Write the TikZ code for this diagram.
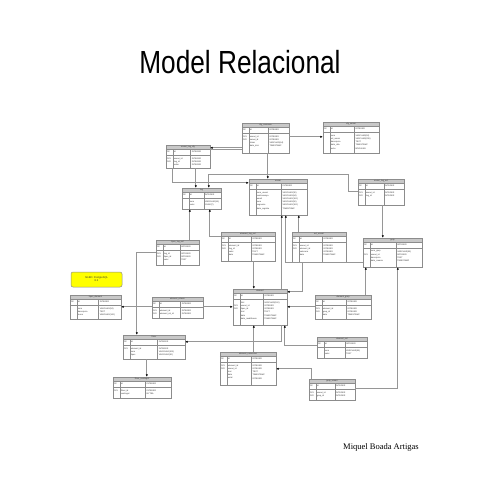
\documentclass[tikz,border=0pt]{standalone}
\usepackage{fontspec}
\setmainfont{Liberation Serif}
\newfontfamily\titlefont[FakeStretch=0.82]{Liberation Sans}
\newfontfamily\taulafont{Liberation Sans}
\usetikzlibrary{arrows.meta,fit}

\definecolor{grisvora}{RGB}{140,140,140}
\definecolor{griscap}{RGB}{200,200,200}
\definecolor{grislinia}{RGB}{150,150,150}
\definecolor{grocnota}{RGB}{255,255,0}

\tikzset{
  taula/.style={inner sep=0pt, fill=white},
  vora/.style={draw=grisvora, line width=0.5pt},
  capcal/.style={fill=griscap},
  lletra/.style={font=\taulafont\fontsize{2.1}{2.4}\selectfont, inner sep=0pt, text=black!80},
  nota/.style={draw=grisvora, fill=grocnota, rounded corners=2pt, inner sep=0pt, line width=0.5pt},
  enllac/.style={draw=grislinia, line width=0.8pt},
  punta/.style={-{Latex[length=2.4pt,width=2.2pt,color=black]}},
  puntai/.style={{Latex[length=2.4pt,width=2.2pt,color=black]}-},
}

% #1 nom, (#2,#3)-(#4,#5) caixa, #6 titol, #7 camps
\newcommand{\dbtaula}[7]{%
  \node[taula, fit={(#2,#3) (#4,#5)}] (#1) {};
  \fill[capcal] (#1.north west) rectangle ([yshift=-4.5pt]#1.north east);
  \path (#1.north west) -- (#1.north east) coordinate[pos=0.56] (#1-c2);
  \draw[vora] ([yshift=-4.5pt]#1.north west) -- ([yshift=-4.5pt]#1.north east);
  \draw[vora] ([yshift=-10pt]#1.north west) -- ([yshift=-10pt]#1.north east);
  \draw[vora] ([xshift=7pt,yshift=-4.5pt]#1.north west) -- ([xshift=7pt]#1.south west);
  \draw[vora] ([yshift=-4.5pt]#1-c2) -- (#1-c2 |- #1.south);
  \draw[vora] (#1.north west) rectangle (#1.south east);
  \node[lletra] at ([yshift=-2.3pt]#1.north) {#6};
  \node[lletra, anchor=west] at ([xshift=1pt,yshift=-7.3pt]#1.north west) {PK};
  \node[lletra, anchor=west] at ([xshift=8pt,yshift=-7.3pt]#1.north west) {id};
  \node[lletra, anchor=west] at ([xshift=1pt,yshift=-7.3pt]#1-c2) {INTEGER};
  \foreach \k/\c/\t [count=\i] in {#7} {
    \node[lletra, anchor=west] at ([xshift=1pt,yshift={-10.5pt-\i*3.2pt}]#1.north west) {\k};
    \node[lletra, anchor=west] at ([xshift=8pt,yshift={-10.5pt-\i*3.2pt}]#1.north west) {\c};
    \node[lletra, anchor=west] at ([xshift=1pt,yshift={-10.5pt-\i*3.2pt}]#1-c2) {\t};
  }
}

\begin{document}
\begin{tikzpicture}[x=1pt, y=-1pt]
\useasboundingbox[fill=white] (0,0) rectangle (480,480);

\node[font=\titlefont\fontsize{32}{36}\selectfont, anchor=base, inner sep=0pt] (titol) at (240,73) {Model Relacional};
\node[font=\fontsize{8.5}{10}\selectfont, anchor=base west, inner sep=0pt] (autor) at (343,449) {Miquel Boada Artigas};

\dbtaula{conn}{242}{123}{289}{153}{cfg\_connexio}{FK1/usuari\_id/INTEGER, FK2/servei\_id/INTEGER, /token/VARCHAR(64), /data\_inici/TIMESTAMP}
\dbtaula{servei}{323}{122}{379}{153}{cfg\_servei}{/nom/VARCHAR(50), /url\_servei/VARCHAR(255), /descripcio/TEXT, /data\_alta/TIMESTAMP, /actiu/BOOLEAN}
\dbtaula{usrtag}{166}{145}{210}{168}{usuari\_tag\_cfg}{FK1/usuari\_id/INTEGER, FK2/tag\_id/INTEGER, /ordre/INTEGER}
\dbtaula{tag}{182}{188}{221}{209}{tag}{/nom/VARCHAR(50), /color/CHAR(7)}
\dbtaula{usuari}{249}{179}{307}{215}{usuari}{/nom\_usuari/VARCHAR(30), /contrasenya/VARCHAR(64), /email/VARCHAR(100), /nom/VARCHAR(50), /cognoms/VARCHAR(100), /data\_registre/TIMESTAMP}
\dbtaula{usrtagext}{358}{179}{404}{205}{usuari\_tag\_ext}{FK1/usuari\_id/INTEGER, FK2/tag\_id/INTEGER}
\dbtaula{tipustag}{156}{240}{199}{265}{tipus\_tag\_ext}{FK1/tag\_id/INTEGER, FK2/tipus\_id/INTEGER, /valor/TEXT}
\dbtaula{elemtag}{221}{232}{275}{261}{element\_tag\_ext}{FK1/element\_id/INTEGER, FK2/tag\_id/INTEGER, /valor/TEXT, /data/TIMESTAMP}
\dbtaula{extusr}{292}{232}{346}{262}{ext\_usuari}{FK1/usuari\_id/INTEGER, FK2/element\_id/INTEGER, /valoracio/INTEGER, /data/TIMESTAMP}
\dbtaula{grup}{363}{238}{422}{267}{grup}{/nom\_grup/VARCHAR(50), FK1/usuari\_id/INTEGER, /descripcio/TEXT, /data\_creacio/TIMESTAMP}
\dbtaula{tipuselem}{70}{295}{121}{319}{tipus\_element}{/nom/VARCHAR(50), /descripcio/TEXT, /icona/VARCHAR(100)}
\dbtaula{relacio}{152}{297}{203}{318}{element\_relacio}{FK1/element\_id/INTEGER, FK2/element\_rel\_id/INTEGER}
\dbtaula{element}{233}{289}{287}{325}{element}{/titol/VARCHAR(100), FK1/usuari\_id/INTEGER, FK2/tipus\_id/INTEGER, /text/TEXT, /data/TIMESTAMP, /data\_modificacio/TIMESTAMP}
\dbtaula{elemgrup}{315}{295}{371}{319}{element\_grup}{FK1/element\_id/INTEGER, FK2/grup\_id/INTEGER, /data/TIMESTAMP}
\dbtaula{elemext}{317}{337}{367}{358}{element\_ext}{/nom/VARCHAR(50), /valor/TEXT}
\dbtaula{comentari}{220}{352}{276}{385}{element\_comentari}{FK1/element\_id/INTEGER, FK2/usuari\_id/INTEGER, /text/TEXT, /data/TIMESTAMP, /estat/INTEGER}
\dbtaula{grupusr}{309}{379}{355}{400}{grup\_usuari}{FK1/usuari\_id/INTEGER, FK2/grup\_id/INTEGER}
\dbtaula{fitxer}{123}{335}{185}{359}{fitxer}{FK1/element\_id/INTEGER, /nom/VARCHAR(100), /tipus/VARCHAR(30)}
\dbtaula{contingut}{113}{377}{171}{398}{fitxer\_contingut}{FK1/fitxer\_id/INTEGER, /contingut/BYTEA}

\node[nota, fit={(71,272) (122,287)}] (nota) {};
\node[lletra, font=\taulafont\fontsize{2.6}{3.2}\selectfont, align=center] (notatext) at (nota.center) {SGBD: PostgreSQL\\8.3};

\draw[enllac, punta] ([yshift=-3pt]conn.west |- usrtag.north) -- ([yshift=-3pt]usrtag.north east);
\draw[enllac] ([yshift=-5pt]conn.west |- usrtag.north) -- ([yshift=-5pt]usrtag.north east);
\draw[enllac, punta] ([yshift=-15pt]conn.east |- servei.north) -- ([yshift=-15pt]servei.north west);
\draw[enllac, punta] ([xshift=26pt]conn.south west) -- ([xshift=26pt]conn.south west |- usuari.north);
\draw[enllac, punta] ([xshift=7pt]usrtag.south west) |- ([yshift=-4pt]usuari.north west);
\draw[enllac, punta] ([xshift=30pt]usrtag.south west) -- ([xshift=30pt]usrtag.south west |- tag.north);
\draw[enllac, puntai] ([xshift=27pt]tag.north west) |- ([xshift=-9pt,yshift=4pt]usrtagext.north west) |- ([yshift=-13pt]usrtagext.north west);
\draw[enllac, puntai] ([xshift=8pt]tag.south west) -- ([xshift=8pt]tag.south west |- tipustag.north);
\draw[enllac, puntai] ([xshift=28pt]tag.south west) |- ([yshift=-5pt]elemtag.north west);
\draw[enllac, puntai] ([xshift=33pt]usuari.south west) -- ([xshift=33pt]usuari.south west |- element.north);
\draw[enllac, puntai] ([xshift=37pt]usuari.south west) |- ([yshift=-25pt]grup.north west);
\draw[enllac, puntai] ([xshift=50pt]usuari.south west) -- ([xshift=50pt]usuari.south west |- extusr.north);
\draw[enllac, punta] ([xshift=25pt]usrtagext.south west) -- ([xshift=25pt]usrtagext.south west |- grup.north);
\draw[enllac, punta] ([yshift=-13pt]tipustag.north west) -| ([xshift=14pt]fitxer.north west);
\draw[enllac, punta] ([xshift=33pt]elemtag.south west) -- ([xshift=33pt]elemtag.south west |- element.north);
\draw[enllac, punta] ([xshift=11pt]extusr.south west) |- ([yshift=-3pt]element.north east);
\draw[enllac, puntai] ([xshift=3pt]grup.south west) -- ([xshift=3pt]grup.south west |- elemgrup.north);
\draw[enllac, puntai] ([xshift=35pt]grup.south west) |- ([yshift=-10pt]grupusr.north east);
\draw[enllac, punta] ([yshift=-10pt]relacio.north west) -- ([yshift=-10pt]relacio.north west -| tipuselem.east);
\draw[enllac, punta] ([yshift=-10pt]relacio.north east) -- ([yshift=-10pt]relacio.north east -| element.west);
\draw[enllac, punta] ([yshift=-12pt]elemgrup.north west) -- ([yshift=-12pt]elemgrup.north west -| element.east);
\draw[enllac, punta] ([xshift=49pt]element.south west) |- ([yshift=-7pt]fitxer.north east);
\draw[enllac, punta] ([yshift=-9pt]elemext.north west) -| ([xshift=52pt]element.south west);
\draw[enllac, punta] ([xshift=34pt]comentari.north west) -- ([xshift=34pt]comentari.north west |- element.south);
\draw[enllac, punta] ([xshift=3pt]grupusr.north west) |- ([yshift=-17pt]comentari.north east);
\draw[enllac, punta] ([xshift=24pt]fitxer.south west) -- ([xshift=24pt]fitxer.south west |- contingut.north);
\end{tikzpicture}
\end{document}
